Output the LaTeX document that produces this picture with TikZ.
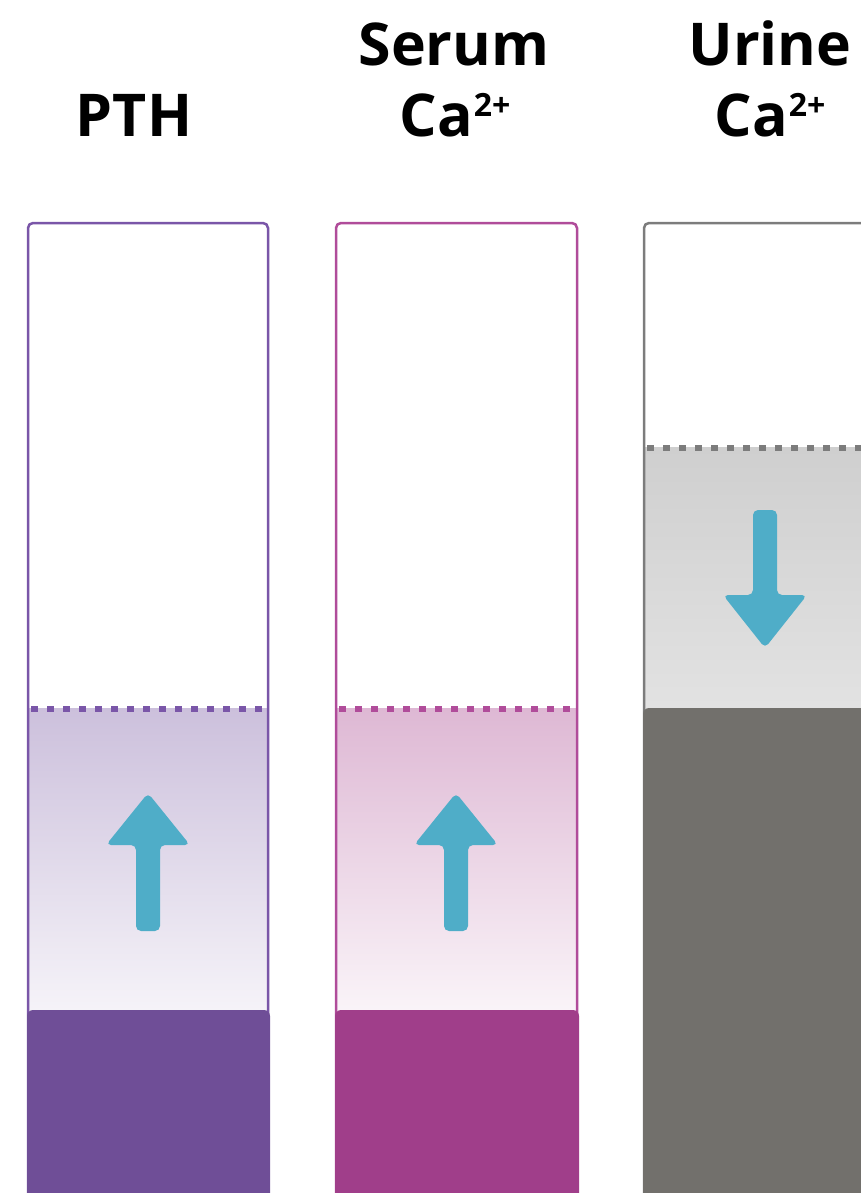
\documentclass[tikz,border=0pt]{standalone}
\usepackage{fontspec}
\setmainfont{Open Sans}
\usepackage{xcolor}
\usepackage{tikz}
\usetikzlibrary{arrows.meta}
\definecolor{pthline}{HTML}{7A56A8}
\definecolor{pthfill}{HTML}{6F4E97}
\definecolor{pthtint}{HTML}{CCC0DC}
\definecolor{serline}{HTML}{B04C9A}
\definecolor{serfill}{HTML}{A03E8A}
\definecolor{sertint}{HTML}{DEB8D4}
\definecolor{urline}{HTML}{7C7C7C}
\definecolor{urfill}{HTML}{72706C}
\definecolor{urtint}{HTML}{CFCFCF}
\definecolor{arrowblue}{HTML}{4FADC8}
\newcommand{\ionlabel}{Ca\kern1pt\raisebox{0.34em}{\fontsize{32}{32}\selectfont 2+}}
\newcommand{\levelarrow}[4]{%
  \fill[arrowblue,rounded corners=5pt]
    (#1-12,#2)--(#1-12,#3)--(#1-42,#3)--(#1,#4)
    --(#1+42,#3)--(#1+12,#3)--(#1+12,#2)--cycle;}
\tikzset{
  header/.style={font=\fontsize{59}{59}\selectfont\bfseries,anchor=base,inner sep=0pt},
  tube/.style={line width=2.5pt,rounded corners=5pt},
  levelmark/.style={line width=6pt,dash pattern=on 7pt off 9pt},
}

\begin{document}
\begin{tikzpicture}[>=Stealth,x=1pt,y=-1pt]
  \useasboundingbox (0,0) rectangle (861,1193);
  \clip (0,0) rectangle (861,1193);
  % headers
  \node[header] (pthlabel) at (134,137) {PTH};
  \node[header] (serumlabel) at (454,66) {Serum};
  \node[header] (serumca) at (455,137) {\ionlabel};
  \node[header] (urinelabel) at (770,66) {Urine};
  \node[header] (urineca) at (770,137) {\ionlabel};
  % PTH
  \shade[top color=pthtint,middle color=pthtint!96,bottom color=pthtint!18] (28,708) rectangle (268,1014);
  \draw[levelmark,pthline] (31,709)--(268,709);
  \draw[tube,pthline] (28,1200)--(28,223)--(268,223)--(268,1200);
  \fill[pthfill,rounded corners=6pt] (27,1210)--(27,1010)--(270,1010)--(270,1210);
  \levelarrow{148}{931}{845}{793}
  % serum Ca
  \shade[top color=sertint,middle color=sertint!94,bottom color=sertint!15] (336,708) rectangle (577,1014);
  \draw[levelmark,serline] (339,709)--(577,709);
  \draw[tube,serline] (336,1200)--(336,223)--(577,223)--(577,1200);
  \fill[serfill,rounded corners=6pt] (335,1210)--(335,1010)--(579,1010)--(579,1210);
  \levelarrow{456}{931}{845}{793}
  % urine Ca
  \shade[top color=urtint,middle color=urtint!95,bottom color=urtint!60] (644,447) rectangle (890,710);
  \draw[levelmark,urline] (647,448)--(890,448);
  \draw[tube,urline] (644,1200)--(644,223)--(890,223)--(890,1200);
  \fill[urfill,rounded corners=6pt] (643,1210)--(643,708)--(892,708)--(892,1210);
  \levelarrow{765}{510}{595}{648}
\end{tikzpicture}
\end{document}
